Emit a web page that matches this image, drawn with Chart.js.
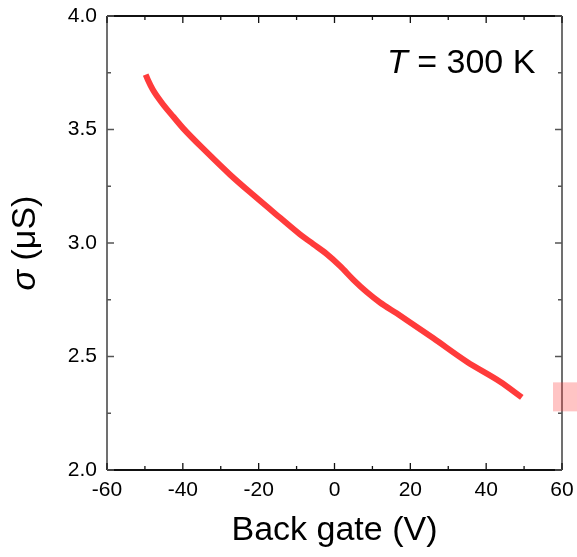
<!DOCTYPE html>
<html>
<head>
<meta charset="utf-8">
<script src="https://cdn.jsdelivr.net/npm/chart.js@4.4.1/dist/chart.umd.min.js"></script>
<style>
  html, body { margin: 0; padding: 0; background: #fff; }
  #wrap { width: 577px; height: 557px; position: relative; }
</style>
</head>
<body>
<div id="wrap"><canvas id="sigmaChart"></canvas></div>
<script>
// Conductance vs back-gate voltage at room temperature
const gateVoltage = [-49.8, -49.2, -47.9, -45.5, -42.5, -39.9, -33.7, -27.6, -21.4, -14.4, -9.1, -5.6, -2.1, 1.5, 5.0, 8.5, 12.0, 16.4, 19.0, 26.1, 34.9, 43.7, 49.4];
const sigmaValues = [3.742, 3.718, 3.675, 3.617, 3.556, 3.505, 3.400, 3.302, 3.211, 3.112, 3.038, 2.995, 2.952, 2.898, 2.838, 2.784, 2.738, 2.690, 2.661, 2.58, 2.477, 2.389, 2.32];

const xTicks = [-60, -40, -20, 0, 20, 40, 60];
const yTicks = [2.0, 2.5, 3.0, 3.5, 4.0];

const lineColor = '#ff3b3b';
const fontFamily = '"Liberation Sans", Arial, sans-serif';

// inward ticks on all four sides, frame, titles and the legend swatch
const framePlugin = {
    id: 'frame',
    afterDraw(chart) {
        const { ctx, chartArea: a, scales } = chart;
        const xs = scales.x, ys = scales.y;
        ctx.save();
        ctx.lineCap = 'butt';

        // frame
        ctx.lineWidth = 2;
        ctx.strokeStyle = '#111';
        ctx.beginPath();
        ctx.moveTo(a.left, a.bottom); ctx.lineTo(a.right, a.bottom);
        ctx.moveTo(a.left, a.top); ctx.lineTo(a.right, a.top);
        ctx.stroke();
        ctx.strokeStyle = '#707070';
        ctx.beginPath();
        ctx.moveTo(a.left, a.top); ctx.lineTo(a.left, a.bottom);
        ctx.moveTo(a.right, a.top); ctx.lineTo(a.right, a.bottom);
        ctx.stroke();

        // x ticks (major every 20, minor every 10)
        ctx.lineWidth = 1.3;
        ctx.strokeStyle = '#111';
        for (let v = -60; v <= 60; v += 10) {
            const px = xs.getPixelForValue(v);
            const len = v % 20 === 0 ? 7 : 4;
            ctx.beginPath();
            ctx.moveTo(px, a.bottom); ctx.lineTo(px, a.bottom - len);
            ctx.moveTo(px, a.top); ctx.lineTo(px, a.top + len);
            ctx.stroke();
        }
        // y ticks (major every 0.5, minor every 0.25)
        ctx.strokeStyle = '#555';
        for (let i = 0; i <= 8; i++) {
            const v = 2 + i * 0.25;
            const py = ys.getPixelForValue(v);
            const len = i % 2 === 0 ? 7 : 4;
            ctx.beginPath();
            ctx.moveTo(a.left, py); ctx.lineTo(a.left + len, py);
            ctx.moveTo(a.right, py); ctx.lineTo(a.right - len, py);
            ctx.stroke();
        }

        // legend swatch at the right edge
        const last = sigmaValues[sigmaValues.length - 1];
        const sy = ys.getPixelForValue(last);
        ctx.fillStyle = 'rgba(255, 59, 59, 0.3)';
        ctx.fillRect(a.right - 9, sy - 15, 40, 29);

        ctx.fillStyle = '#000';
        // x title
        ctx.font = `34px ${fontFamily}`;
        ctx.textAlign = 'center';
        ctx.textBaseline = 'alphabetic';
        ctx.fillText('Back gate (V)', (a.left + a.right) / 2, 540);

        // y title, rotated, sigma in italics
        ctx.save();
        ctx.translate(35, (a.top + a.bottom) / 2);
        ctx.rotate(-Math.PI / 2);
        ctx.textAlign = 'left';
        const part1 = 'σ', part2 = ' (μS)';
        ctx.font = `italic 34px ${fontFamily}`;
        const w1 = ctx.measureText(part1).width;
        ctx.font = `34px ${fontFamily}`;
        const w2 = ctx.measureText(part2).width;
        let sx = -(w1 + w2) / 2;
        ctx.font = `italic 34px ${fontFamily}`;
        ctx.fillText(part1, sx, 0);
        ctx.font = `34px ${fontFamily}`;
        ctx.fillText(part2, sx + w1, 0);
        ctx.restore();

        // temperature annotation
        ctx.textAlign = 'left';
        ctx.font = `italic 34px ${fontFamily}`;
        ctx.fillText('T', 387, 73);
        const tw = ctx.measureText('T').width;
        ctx.font = `34px ${fontFamily}`;
        ctx.fillText(' = 300 K', 387 + tw, 73);

        ctx.restore();
    }
};

new Chart(document.getElementById('sigmaChart'), {
    type: 'scatter',
    data: {
        datasets: [{
            data: gateVoltage.map((v, i) => ({ x: v, y: sigmaValues[i] })),
            showLine: true,
            borderColor: lineColor,
            borderWidth: 6,
            pointRadius: 0,
            cubicInterpolationMode: 'monotone',
            borderCapStyle: 'butt'
        }]
    },
    options: {
        responsive: true,
        maintainAspectRatio: false,
        animation: false,
        layout: { padding: { left: 0, right: 15, top: 16, bottom: 0 } },
        plugins: { legend: { display: false }, tooltip: { enabled: false } },
        scales: {
            x: {
                type: 'linear',
                min: -60, max: 60,
                afterBuildTicks: s => { s.ticks = xTicks.map(v => ({ value: v })); },
                // fixed box; end labels may hang over the padding
                afterFit: s => { s.height = 87; s.paddingLeft = 0; s.paddingRight = 0; },
                grid: { display: false, drawTicks: false },
                border: { display: false },
                ticks: { color: '#000', padding: 8, font: { family: fontFamily, size: 21 }, maxRotation: 0 }
            },
            y: {
                type: 'linear',
                min: 2.0, max: 4.0,
                afterBuildTicks: s => { s.ticks = yTicks.map(v => ({ value: v })); },
                afterFit: s => { s.width = 107; s.paddingTop = 0; s.paddingBottom = 0; },
                grid: { display: false, drawTicks: false },
                border: { display: false },
                ticks: { color: '#000', padding: 10, font: { family: fontFamily, size: 21 },
                         callback: v => v.toFixed(1) }
            }
        }
    },
    plugins: [framePlugin]
});
</script>
</body>
</html>
